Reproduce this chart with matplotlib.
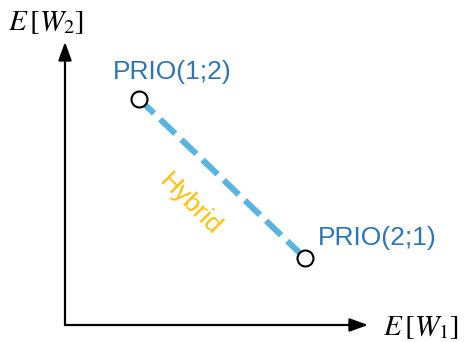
import matplotlib
matplotlib.use("Agg")
import matplotlib.pyplot as plt

# data (relative to the origin of the sketch axes)
labels = ["PRIO(1;2)", "PRIO(2;1)"]
ew1 = [74, 240]
ew2 = [226, 67]
hybrid_label = "Hybrid"

plt.rcParams['mathtext.fontset'] = 'stix'
fig = plt.figure(figsize=(4.67, 3.42), dpi=100)
ax = fig.add_axes([0, 0, 1, 1])
ax.set_xlim(-65, 402)
ax.set_ylim(-17, 325)
ax.axis('off')

# axes arrows
ax.annotate("", xy=(303, 0), xytext=(0, 0),
            arrowprops=dict(arrowstyle="-|>,head_length=1.1,head_width=0.4", lw=1.6, color="black", shrinkA=0, shrinkB=0))
ax.annotate("", xy=(0, 283), xytext=(0, 0),
            arrowprops=dict(arrowstyle="-|>,head_length=1.1,head_width=0.4", lw=1.6, color="black", shrinkA=0, shrinkB=0))

ax.text(-57, 303, r"$E\,[W_2]$", fontsize=21, ha="left", va="center")
ax.text(318, -2, r"$E\,[W_1]$", fontsize=21, ha="left", va="center")

# hybrid line
ax.plot(ew1, ew2, color="#5AB4E0", lw=4.4, dashes=(3.4, 1.4), solid_capstyle="butt", zorder=2)
ax.plot(ew1, ew2, linestyle="none", marker="o", markersize=11.5, markerfacecolor="white",
        markeredgecolor="black", markeredgewidth=1.5, zorder=3)

blue = "#2E75B6"
ax.text(ew1[0] + 33, ew2[0] + 27, labels[0], fontsize=19, color=blue, ha="center", va="center",
        family="Liberation Sans")
ax.text(ew1[1] + 13, ew2[1] + 20, labels[1], fontsize=19, color=blue, ha="left", va="center",
        family="Liberation Sans")

mx = (ew1[0] + ew1[1]) / 2
my = (ew2[0] + ew2[1]) / 2
ax.text(mx - 32, my - 26, hybrid_label, fontsize=19, color="#FFC000", rotation=-45,
        rotation_mode="anchor", ha="center", va="center", family="Liberation Sans")

fig.savefig("out.png", dpi=100)
